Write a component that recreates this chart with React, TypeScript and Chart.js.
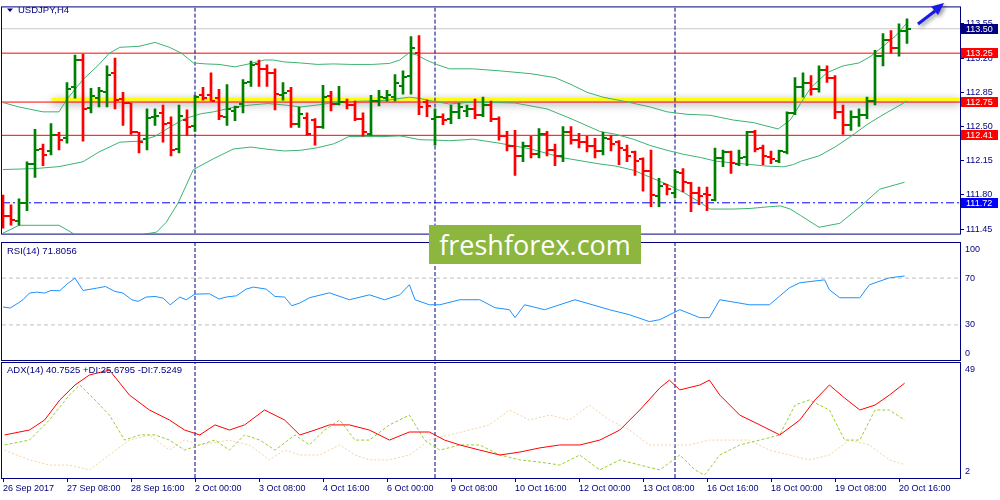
import React, { useEffect, useRef } from "react";
import { Chart, registerables } from "chart.js";

Chart.register(...registerables);

// ---------------- DATA ----------------
const xTickBars = [0, 8, 16, 24, 32, 40, 48, 56, 64, 72, 80, 88, 96, 104, 112];
const xTickLabels = [
  "26 Sep 2017", "27 Sep 08:00", "28 Sep 16:00", "2 Oct 00:00", "3 Oct 08:00",
  "4 Oct 16:00", "6 Oct 00:00", "9 Oct 08:00", "10 Oct 16:00", "12 Oct 00:00",
  "13 Oct 08:00", "16 Oct 16:00", "18 Oct 00:00", "19 Oct 08:00", "20 Oct 16:00",
];
const weekStartBars = [24, 54, 84];

const opens = [
  111.70, 111.59, 111.53, 111.72, 112.12, 112.27, 112.25, 112.41, 112.38, 112.90,
  113.18, 112.69, 112.79, 112.85, 113.05, 112.78, 112.74, 112.44, 112.37, 112.60,
  112.64, 112.54, 112.27, 112.57, 112.51, 112.82, 112.82, 112.79, 112.60, 112.66,
  112.73, 112.96, 113.14, 113.09, 113.05, 112.82, 112.86, 112.53, 112.59, 112.57,
  112.50, 112.81, 112.73, 112.75, 112.72, 112.58, 112.42, 112.76, 112.79, 112.80,
  112.91, 113.02, 113.25, 112.75, 112.58, 112.60, 112.58, 112.65, 112.66,
  112.68, 112.62, 112.72, 112.58, 112.40, 112.30, 112.20, 112.30, 112.22, 112.42, 112.26, 112.20, 112.44, 112.36, 112.34, 112.30,
  112.25, 112.37, 112.345, 112.26, 112.24, 112.17, 112.05, 111.79, 111.91, 111.82, 112.02, 111.92, 111.82, 111.81, 111.75,
  112.18, 112.235, 112.12, 112.19, 112.44, 112.28, 112.19, 112.15, 112.24, 112.64,
  112.90, 112.95, 112.88, 113.08, 113.00, 112.65, 112.52, 112.60, 112.62, 112.76, 113.22, 113.38, 113.30, 113.48,
];
const highs = [
  111.80, 111.70, 111.76, 112.14, 112.47, 112.32, 112.53, 112.44, 112.95, 113.23,
  113.24, 112.89, 112.90, 113.12, 113.20, 112.85, 112.74, 112.44, 112.68, 112.68,
  112.72, 112.60, 112.72, 112.67, 112.82, 112.90, 113.05, 112.88, 112.93, 112.71,
  112.98, 113.17, 113.18, 113.13, 113.09, 112.95, 112.90, 112.70, 112.64, 112.58,
  112.92, 112.86, 112.91, 112.78, 112.76, 112.64, 112.82, 112.87, 112.87, 113.03,
  113.07, 113.42, 113.43, 112.77, 112.68, 112.63, 112.72, 112.74, 112.72,
  112.78, 112.80, 112.76, 112.60, 112.45, 112.46, 112.34, 112.40, 112.48, 112.45, 112.32, 112.50, 112.50, 112.43, 112.40, 112.38,
  112.44, 112.41, 112.355, 112.31, 112.25, 112.18, 112.26, 111.97, 111.91, 112.06, 112.07, 111.93, 111.88, 111.88, 112.28,
  112.26, 112.25, 112.26, 112.45, 112.46, 112.31, 112.25, 112.26, 112.65, 113.00,
  113.05, 113.02, 113.12, 113.12, 113.02, 112.72, 112.66, 112.68, 112.80, 113.28, 113.45, 113.48, 113.55, 113.60,
];
const lows = [
  111.46, 111.49, 111.49, 111.64, 111.98, 112.10, 112.21, 112.26, 112.33, 112.79,
  112.35, 112.64, 112.70, 112.70, 112.68, 112.51, 112.42, 112.23, 112.26, 112.51,
  112.34, 112.20, 112.23, 112.41, 112.45, 112.77, 112.76, 112.57, 112.51, 112.56,
  112.64, 112.91, 112.91, 112.91, 112.67, 112.77, 112.49, 112.49, 112.41, 112.31,
  112.48, 112.66, 112.72, 112.68, 112.56, 112.40, 112.41, 112.71, 112.76, 112.76,
  112.83, 112.83, 112.62, 112.60, 112.31, 112.52, 112.53, 112.58, 112.60,
  112.58, 112.60, 112.55, 112.36, 112.25, 112.00, 112.14, 112.18, 112.18, 112.20, 112.10, 112.14, 112.32, 112.28, 112.24, 112.18,
  112.21, 112.25, 112.11, 112.14, 112.00, 111.84, 111.68, 111.68, 111.80, 111.77, 111.83, 111.63, 111.70, 111.64, 111.74,
  112.09, 112.02, 112.10, 112.10, 112.24, 112.11, 112.12, 112.13, 112.22, 112.62,
  112.80, 112.82, 112.85, 112.95, 112.58, 112.42, 112.46, 112.50, 112.58, 112.72, 113.12, 113.25, 113.22, 113.35,
];
const closes = [
  111.59, 111.54, 111.72, 112.12, 112.26, 112.21, 112.41, 112.36, 112.88, 113.18,
  112.68, 112.81, 112.86, 113.03, 112.77, 112.74, 112.44, 112.34, 112.59, 112.61,
  112.53, 112.26, 112.61, 112.49, 112.80, 112.79, 112.76, 112.61, 112.68, 112.70,
  112.95, 113.13, 113.09, 113.05, 112.83, 112.84, 112.53, 112.63, 112.42, 112.49,
  112.80, 112.73, 112.75, 112.72, 112.58, 112.44, 112.76, 112.80, 112.82, 112.95,
  113.01, 113.30, 112.70, 112.71, 112.60, 112.57, 112.65, 112.70, 112.68,
  112.62, 112.72, 112.58, 112.40, 112.30, 112.20, 112.30, 112.22, 112.42, 112.26, 112.20, 112.44, 112.36, 112.34, 112.30, 112.25,
  112.38, 112.32, 112.28, 112.20, 112.15, 112.05, 111.80, 111.89, 111.86, 112.03, 111.93, 111.82, 111.79, 111.80, 112.18,
  112.24, 112.13, 112.18, 112.44, 112.27, 112.20, 112.17, 112.25, 112.64, 112.90,
  112.95, 112.88, 113.08, 113.00, 112.65, 112.52, 112.60, 112.62, 112.76, 113.22, 113.38, 113.30, 113.48, 113.50,
];

// Bollinger bands: [bar, price]
const bbUpper = [
  [0, 112.745], [2, 112.70], [5, 112.65], [7, 112.65], [8, 112.78], [10, 112.98], [12, 113.135], [13.3, 113.25],
  [14.6, 113.31], [17, 113.32], [19, 113.36], [20.8, 113.31], [22.3, 113.25], [23.8, 113.15], [25.4, 113.14],
  [27, 113.135], [29, 113.11], [31, 113.145], [32.7, 113.18], [33.8, 113.18], [35.2, 113.16], [37.2, 113.15],
  [39.3, 113.135], [41.3, 113.14], [43.4, 113.135], [46.2, 113.135], [48.3, 113.145], [49.6, 113.18], [50.7, 113.25],
  [51.7, 113.233], [52.9, 113.18], [54.2, 113.135], [55.8, 113.09], [58.7, 113.09], [62, 113.07], [66, 113.04],
  [69, 113.0], [71, 112.93], [73, 112.85], [75, 112.80], [77.5, 112.76], [80.9, 112.70], [83, 112.65], [85.5, 112.625],
  [88.4, 112.615], [91.3, 112.566], [93.8, 112.54], [96.9, 112.475], [98.4, 112.566], [99.7, 112.735], [101, 112.90],
  [103, 113.05], [105, 113.12], [107, 113.15], [108.5, 113.22], [110, 113.32], [111.5, 113.42], [113, 113.56],
];
const bbMiddle = [
  [0, 112.06], [4, 112.07], [7, 112.09], [10, 112.14], [12, 112.24], [14.6, 112.34], [17, 112.35], [19, 112.40],
  [21, 112.50], [22.7, 112.58], [24.7, 112.63], [26.3, 112.65], [29, 112.70], [31, 112.72], [33.1, 112.735],
  [35.2, 112.72], [37.2, 112.70], [39.3, 112.72], [41.3, 112.745], [43.4, 112.755], [45.4, 112.76], [47.9, 112.768],
  [49.6, 112.787], [50.8, 112.80], [52.1, 112.787], [53.7, 112.76], [55.8, 112.73], [57.9, 112.745], [58.7, 112.75],
  [64, 112.74], [68, 112.68], [71, 112.58], [74.6, 112.45], [76.6, 112.42], [78.8, 112.37], [80.9, 112.306],
  [83, 112.257], [85.1, 112.215], [87.2, 112.183], [89.2, 112.144], [91.3, 112.128], [93.4, 112.111], [95.5, 112.095],
  [97.6, 112.088], [98.8, 112.111], [99.7, 112.144], [102, 112.20], [104, 112.29], [106, 112.40], [108, 112.52],
  [110, 112.62], [113, 112.76],
];
const bbLower = [
  [0, 111.41], [2, 111.49], [7, 111.49], [8.5, 111.42], [13, 111.15], [17.7, 111.40], [19.2, 111.42], [20.4, 111.52],
  [21.9, 111.72], [23.8, 112.06], [26.3, 112.17], [28.8, 112.27], [31, 112.29], [33.1, 112.267], [35.2, 112.25],
  [37.2, 112.257], [39.3, 112.283], [41.3, 112.322], [42.2, 112.355], [43.2, 112.397], [45.4, 112.397], [47.5, 112.397],
  [49.6, 112.404], [50.8, 112.387], [52.1, 112.365], [53.7, 112.362], [55.8, 112.355], [57.9, 112.365], [58.7, 112.371],
  [62, 112.33], [66, 112.27], [70, 112.18], [74.6, 112.117], [76.6, 112.095], [78.8, 112.053], [80.9, 111.981],
  [83, 111.91], [85.1, 111.825], [87.2, 111.72], [88.4, 111.656], [91.3, 111.656], [93.4, 111.662], [95.5, 111.678],
  [97.2, 111.688], [98.4, 111.656], [99.7, 111.59], [102, 111.47], [104.6, 111.51], [107, 111.67], [109.6, 111.86],
  [112.7, 111.93],
];

const priceTicks = [111.45, 111.8, 112.15, 112.5, 112.85, 113.2, 113.55];
const redLevels = [113.25, 112.75, 112.41];
const bidLevel = 113.5;
const lowLevel = 111.72;
const yellowLevel = 112.78;
const yellowStartBar = 6.1;
const tagValues = [113.5, 113.25, 112.75, 112.41, 111.72];

// RSI(14): [bar, value]
const rsiPoints = [
  [0, 45.3], [0.9, 44.4], [1.9, 48.7], [2.5, 51.5], [3.3, 57.2], [4.2, 58.0], [5.2, 57.2], [6, 59.4], [7.1, 59.2],
  [7.9, 64.3], [9, 70.0], [10, 59.4], [11.7, 61.4], [12.8, 62.8], [14, 58.6], [15, 57.2], [16.1, 51.5], [16.9, 50.1],
  [17.9, 53.8], [19, 54.3], [20, 52.9], [20.9, 47.2], [22.1, 53.8], [22.9, 51.5], [24, 56.3], [25.8, 56.6], [27, 52.1],
  [27.9, 53.8], [29.2, 54.9], [30.4, 60.6], [31.3, 62.3], [32.9, 60.6], [34, 54.3], [35.2, 53.8], [36.1, 46.4],
  [37.1, 48.7], [38.3, 53.2], [40.8, 57.4], [43.3, 51.5], [45.8, 55.7], [47.7, 51.5], [49.6, 55.7], [50.8, 64.3],
  [51.5, 51.5], [53.3, 47.2], [54.6, 47.2], [57.1, 51.5], [59.6, 51.5], [61.5, 44.7], [63.3, 43.0], [64, 36.2],
  [65.2, 47.2], [67.7, 43.0], [71.5, 51.5], [75.8, 43.0], [78.3, 38.7], [80.8, 32.8], [82.1, 34.5], [84.6, 43.0],
  [87.1, 36.2], [88.3, 36.2], [89.6, 51.5], [93.3, 47.2], [95.8, 47.2], [98.3, 61.7], [99.6, 66.0], [102.7, 68.5],
  [103.3, 60.0], [104.6, 53.2], [107.1, 53.2], [108.3, 64.3], [110.8, 70.2], [112.7, 71.8],
];
const rsiLevels = [70, 30];
const rsiAxisLabels = [100, 70, 30, 0];

// ADX(14): [bar, value]
const adxPoints = [
  [0.2, 19.6], [3.3, 21.6], [5.2, 25.7], [7.1, 33.9], [9, 40.0], [10.8, 44.1], [13.3, 46.1], [15.8, 35.9], [18.3, 29.8],
  [20.8, 25.7], [22.7, 21.6], [24.6, 19.6], [26.5, 23.7], [28.3, 21.6], [30.2, 23.7], [32.7, 29.8], [35.2, 25.7],
  [37.1, 19.6], [39, 21.6], [40.8, 23.7], [43.3, 23.7], [45.8, 21.6], [48.3, 17.5], [50.8, 20.8], [53.3, 20.8],
  [55.2, 17.5], [57.1, 15.5], [59.6, 13.4], [62.1, 11.4], [64.6, 12.6], [67.1, 14.3], [69.6, 15.5], [72.1, 15.5],
  [74.6, 17.5], [77.1, 21.6], [79.6, 29.8], [82.1, 38.8], [83.3, 42.0], [84.6, 38.0], [87.1, 40.0], [88.3, 42.0],
  [89.6, 35.9], [92.1, 27.7], [94.6, 23.7], [97.1, 19.6], [99.6, 25.7], [101.5, 33.9], [103.3, 40.0], [105.2, 34.7],
  [107.1, 29.8], [109, 31.8], [110.8, 35.9], [112.7, 40.75],
];
const plusDiPoints = [
  [0.2, 15.5], [3.3, 17.5], [5.8, 25.7], [8.3, 35.9], [9.6, 40.0], [11.5, 33.9], [13.3, 27.7], [15.2, 17.5], [17.1, 19.6],
  [19, 19.6], [20.8, 17.5], [22.7, 13.4], [24.6, 15.5], [26.5, 17.5], [28.3, 13.4], [30.2, 19.6], [32.1, 17.5],
  [34, 13.4], [36.5, 19.6], [38.3, 15.5], [40.2, 21.6], [42.1, 25.7], [44, 17.5], [45.8, 17.5], [48.3, 23.7],
  [50.8, 27.7], [52.7, 17.5], [54.6, 13.4], [57.1, 15.5], [59.6, 15.5], [62.1, 11.4], [64.6, 9.4], [67.1, 8.5],
  [69.6, 7.3], [72.1, 11.4], [74.6, 5.3], [77.1, 9.4], [79.6, 7.3], [82.1, 5.3], [84.6, 11.4], [86.5, 5.3], [87.7, 3.2],
  [89.6, 11.4], [92.1, 15.5], [94.6, 17.5], [97.1, 19.6], [99, 31.8], [100.8, 33.9], [103.3, 29.8], [105.2, 17.5],
  [107.1, 17.5], [109, 29.8], [110.8, 29.8], [112.7, 25.7],
];
const minusDiPoints = [
  [0.2, 13.4], [3.3, 9.4], [5.8, 7.3], [8.3, 7.3], [10.8, 5.3], [13.3, 11.4], [15.8, 17.5], [18.3, 19.6], [20.8, 13.4],
  [22.7, 17.5], [24.6, 15.5], [28.3, 17.5], [30.8, 15.5], [33.3, 9.4], [35.2, 13.4], [37.1, 11.4], [39.6, 11.4],
  [42.1, 15.5], [44, 11.4], [45.8, 9.4], [48.3, 9.4], [50.8, 11.4], [53.3, 17.5], [55.8, 19.6], [58.3, 21.6],
  [60.8, 23.7], [63.3, 29.8], [65.8, 25.7], [68.3, 27.7], [70.8, 25.7], [73.3, 31.8], [75.8, 25.7], [78.3, 21.6],
  [80.8, 15.5], [83.3, 15.5], [85.8, 15.5], [88.3, 17.5], [90.8, 17.5], [93.3, 17.5], [95.8, 13.4], [98.3, 11.4],
  [100.8, 9.4], [103.3, 11.4], [105.8, 17.5], [108.3, 15.5], [110.8, 9.4], [112.7, 7.5],
];
const adxAxisLabels = [49, 2];

// ---------------- STYLE ----------------
const FAMILY = "'Liberation Sans', Arial, sans-serif";
const NAVY = "#000080";
const GREEN = "#008000";
const RED = "#ff0000";
const BB = "#3cb371";
const X_MIN = -0.125;
const X_MAX = 119.625;
const P_MIN = 111.405;
const P_MAX = 113.718;
const tagColors = [NAVY, RED, RED, RED, "#0000ff"];

const pts = (arr: number[][]) => arr.map(([x, y]) => ({ x, y }));
const hLine = (v: number, x0 = X_MIN, x1 = X_MAX) => [{ x: x0, y: v }, { x: x1, y: v }];
const lineDs = (data: any[], color: string, extra: any = {}) => ({
  type: "line",
  data,
  borderColor: color,
  borderWidth: 1,
  pointRadius: 0,
  tension: 0,
  fill: false,
  ...extra,
});
const separators = (lo: number, hi: number) =>
  weekStartBars.map((b) =>
    lineDs([{ x: b, y: lo }, { x: b, y: hi }], NAVY, { borderDash: [4, 2], order: 30 })
  );

const hiddenX = { type: "linear", min: X_MIN, max: X_MAX, display: false, offset: false, grid: { offset: false } };

const framePlugin = {
  id: "frame",
  afterDraw(chart: any) {
    const { ctx, chartArea: a } = chart;
    ctx.save();
    ctx.strokeStyle = NAVY;
    ctx.lineWidth = 1;
    ctx.strokeRect(a.left - 0.5, a.top - 0.5, a.right - a.left + 1, a.bottom - a.top + 1);
    ctx.restore();
  },
};

const edgeLabels = (values: number[]) => ({
  id: "edgeLabels",
  afterDraw(chart: any) {
    const { ctx, chartArea: a, scales } = chart;
    const y = scales.y;
    ctx.save();
    ctx.font = `9px ${FAMILY}`;
    ctx.fillStyle = NAVY;
    ctx.textBaseline = "middle";
    values.forEach((v) => {
      let py = y.getPixelForValue(v);
      py = Math.max(a.top + 6.5, Math.min(a.bottom - 6.5, py));
      ctx.fillText(String(v), a.right + 5, py);
    });
    ctx.restore();
  },
});

const titlePlugin = (text: string, ty: number, triangle = false) => ({
  id: "paneTitle",
  afterDraw(chart: any) {
    const { ctx } = chart;
    ctx.save();
    ctx.fillStyle = NAVY;
    let tx = 7;
    if (triangle) {
      ctx.beginPath();
      ctx.moveTo(7, ty - 2);
      ctx.lineTo(13, ty - 2);
      ctx.lineTo(10, ty + 1.5);
      ctx.closePath();
      ctx.fill();
      tx = 18;
    }
    ctx.font = `9.5px ${FAMILY}`;
    ctx.textBaseline = "middle";
    ctx.fillText(text, tx, ty);
    ctx.restore();
  },
});

const ohlcTicks = {
  id: "ohlcTicks",
  afterDatasetsDraw(chart: any) {
    const { ctx, scales, chartArea: a } = chart;
    const x = scales.x;
    const y = scales.y;
    ctx.save();
    ctx.beginPath();
    ctx.rect(a.left, a.top, a.right - a.left, a.bottom - a.top);
    ctx.clip();
    opens.forEach((o, i) => {
      const cx = Math.round(x.getPixelForValue(i));
      ctx.fillStyle = closes[i] >= o ? GREEN : RED;
      const yo = Math.round(y.getPixelForValue(o));
      const yc = Math.round(y.getPixelForValue(closes[i]));
      ctx.fillRect(cx - 4, yo - 1, 3, 2);
      ctx.fillRect(cx + 1, yc - 1, 3, 2);
    });
    ctx.restore();
  },
};

const shadowPlugin = {
  id: "yellowShadow",
  beforeDatasetDraw(chart: any, args: any) {
    if (chart.data.datasets[args.index].label === "yellow") {
      const ctx = chart.ctx;
      ctx.save();
      ctx.shadowColor = "rgba(0,0,0,0.55)";
      ctx.shadowBlur = 9;
      ctx.shadowOffsetY = 3;
    }
  },
  afterDatasetDraw(chart: any, args: any) {
    if (chart.data.datasets[args.index].label === "yellow") chart.ctx.restore();
  },
};

const priceDecor = {
  id: "priceDecor",
  afterDraw(chart: any) {
    const { ctx, scales } = chart;
    const y = scales.y;
    ctx.save();
    ctx.font = `9px ${FAMILY}`;
    ctx.textBaseline = "middle";
    tagValues.forEach((v, k) => {
      const py = Math.round(y.getPixelForValue(v));
      ctx.fillStyle = tagColors[k];
      ctx.fillRect(961, py - 5, 37, 10);
      ctx.fillStyle = "#ffffff";
      ctx.fillText(v.toFixed(2), 966, py + 0.5);
    });
    // trend arrow
    ctx.shadowColor = "rgba(0,0,0,0.45)";
    ctx.shadowBlur = 4;
    ctx.shadowOffsetX = 2;
    ctx.shadowOffsetY = 2;
    ctx.strokeStyle = "#1a1ae6";
    ctx.fillStyle = "#1a1ae6";
    ctx.lineWidth = 3;
    ctx.beginPath();
    ctx.moveTo(918, 24);
    ctx.lineTo(935, 11);
    ctx.stroke();
    ctx.beginPath();
    ctx.moveTo(944, 3);
    ctx.lineTo(931, 6.5);
    ctx.lineTo(938, 15);
    ctx.closePath();
    ctx.fill();
    ctx.restore();
  },
};

function priceConfig(): any {
  return {
    type: "bar",
    data: {
      datasets: [
        ...redLevels.map((v) => lineDs(hLine(v), RED, { order: 40 })),
        lineDs(hLine(bidLevel), "#c8c8c8", { order: 41 }),
        lineDs(hLine(lowLevel), "#0000ff", { borderDash: [8, 3, 2, 3], order: 40 }),
        lineDs(hLine(yellowLevel, yellowStartBar), "#ffff00", { label: "yellow", borderWidth: 3, order: 45 }),
        ...separators(P_MIN, P_MAX),
        lineDs(pts(bbUpper), BB, { order: 10 }),
        lineDs(pts(bbMiddle), BB, { order: 10 }),
        lineDs(pts(bbLower), BB, { order: 10 }),
        {
          type: "bar",
          data: opens.map((o, i) => ({ x: i, y: [lows[i], highs[i]] })),
          backgroundColor: opens.map((o, i) => (closes[i] >= o ? GREEN : RED)),
          borderWidth: 0,
          barThickness: 2,
          grouped: false,
          order: 1,
        },
      ],
    },
    options: {
      responsive: false,
      animation: false,
      devicePixelRatio: 1,
      events: [],
      layout: { padding: { left: 2, top: 2, right: 0, bottom: 2 } },
      plugins: { legend: { display: false }, tooltip: { enabled: false } },
      scales: {
        x: hiddenX,
        y: {
          type: "linear",
          position: "right",
          min: P_MIN,
          max: P_MAX,
          afterBuildTicks: (s: any) => {
            s.ticks = priceTicks.map((v) => ({ value: v }));
          },
          afterFit: (s: any) => {
            s.width = 40;
          },
          ticks: {
            color: NAVY,
            font: { family: FAMILY, size: 9 },
            padding: 2,
            callback: (v: any) => Number(v).toFixed(2),
          },
          grid: { drawOnChartArea: false, color: NAVY, tickLength: 4 },
          border: { display: false },
        },
      },
    },
    plugins: [shadowPlugin, ohlcTicks, framePlugin, titlePlugin("USDJPY,H4", 10.5, true), priceDecor],
  };
}

function rsiConfig(): any {
  return {
    type: "line",
    data: {
      datasets: [
        ...rsiLevels.map((v) => lineDs(hLine(v), "#c0c0c0", { borderDash: [4, 3], order: 20 })),
        ...separators(0, 100),
        lineDs(pts(rsiPoints), "#1e90ff", { order: 1 }),
      ],
    },
    options: {
      responsive: false,
      animation: false,
      devicePixelRatio: 1,
      events: [],
      layout: { padding: { left: 2, top: 3, right: 0, bottom: 2 } },
      plugins: { legend: { display: false }, tooltip: { enabled: false } },
      scales: {
        x: hiddenX,
        y: {
          type: "linear",
          position: "right",
          min: 0,
          max: 100,
          afterFit: (s: any) => {
            s.width = 40;
          },
          ticks: { display: false },
          grid: { display: false },
          border: { display: false },
        },
      },
    },
    plugins: [framePlugin, edgeLabels(rsiAxisLabels), titlePlugin("RSI(14) 71.8056", 11.5)],
  };
}

function adxConfig(): any {
  return {
    type: "line",
    data: {
      datasets: [
        ...separators(2, 49),
        lineDs(pts(minusDiPoints), "#f3d3a3", { borderDash: [2, 2], order: 5 }),
        lineDs(pts(plusDiPoints), "#9acd32", { borderDash: [3, 2], order: 4 }),
        lineDs(pts(adxPoints), RED, { order: 1 }),
      ],
    },
    options: {
      responsive: false,
      animation: false,
      devicePixelRatio: 1,
      events: [],
      layout: { padding: { left: 2, top: 1, right: 0, bottom: 0 } },
      plugins: { legend: { display: false }, tooltip: { enabled: false } },
      scales: {
        x: {
          type: "linear",
          min: X_MIN,
          max: X_MAX,
          offset: false,
          position: "bottom",
          afterBuildTicks: (s: any) => {
            s.ticks = xTickBars.map((v) => ({ value: v }));
          },
          afterFit: (s: any) => {
            s.height = 22;
          },
          ticks: {
            autoSkip: false,
            maxRotation: 0,
            minRotation: 0,
            align: "start",
            padding: 1,
            color: NAVY,
            font: { family: FAMILY, size: 9 },
            callback: (_v: any, i: number) => xTickLabels[i],
          },
          grid: { drawOnChartArea: false, color: NAVY, tickLength: 4 },
          border: { display: false },
        },
        y: {
          type: "linear",
          position: "right",
          min: 2,
          max: 49,
          afterFit: (s: any) => {
            s.width = 40;
          },
          ticks: { display: false },
          grid: { display: false },
          border: { display: false },
        },
      },
    },
    plugins: [framePlugin, edgeLabels(adxAxisLabels), titlePlugin("ADX(14) 40.7525 +DI:25.6795 -DI:7.5249", 8)],
  };
}

export default function App() {
  const priceRef = useRef<HTMLCanvasElement>(null);
  const rsiRef = useRef<HTMLCanvasElement>(null);
  const adxRef = useRef<HTMLCanvasElement>(null);

  useEffect(() => {
    const charts = [
      new Chart(priceRef.current as HTMLCanvasElement, priceConfig()),
      new Chart(rsiRef.current as HTMLCanvasElement, rsiConfig()),
      new Chart(adxRef.current as HTMLCanvasElement, adxConfig()),
    ];
    return () => charts.forEach((c) => c.destroy());
  }, []);

  return (
    <div style={{ position: "absolute", left: 0, top: 0, width: 1000, height: 500, background: "#ffffff", overflow: "hidden" }}>
      <canvas ref={priceRef} width={1000} height={241} style={{ position: "absolute", left: 0, top: 0 }} />
      <canvas ref={rsiRef} width={1000} height={122} style={{ position: "absolute", left: 0, top: 240 }} />
      <canvas ref={adxRef} width={1000} height={138} style={{ position: "absolute", left: 0, top: 362 }} />
      <div
        style={{
          position: "absolute",
          left: 429,
          top: 225,
          width: 212,
          height: 39,
          background: "#8db63f",
          color: "#ffffff",
          fontFamily: "'Open Sans', 'Noto Sans', sans-serif",
          fontSize: 27,
          lineHeight: "39px",
          textAlign: "center",
          letterSpacing: 0,
        }}
      >
        freshforex.com
      </div>
    </div>
  );
}
